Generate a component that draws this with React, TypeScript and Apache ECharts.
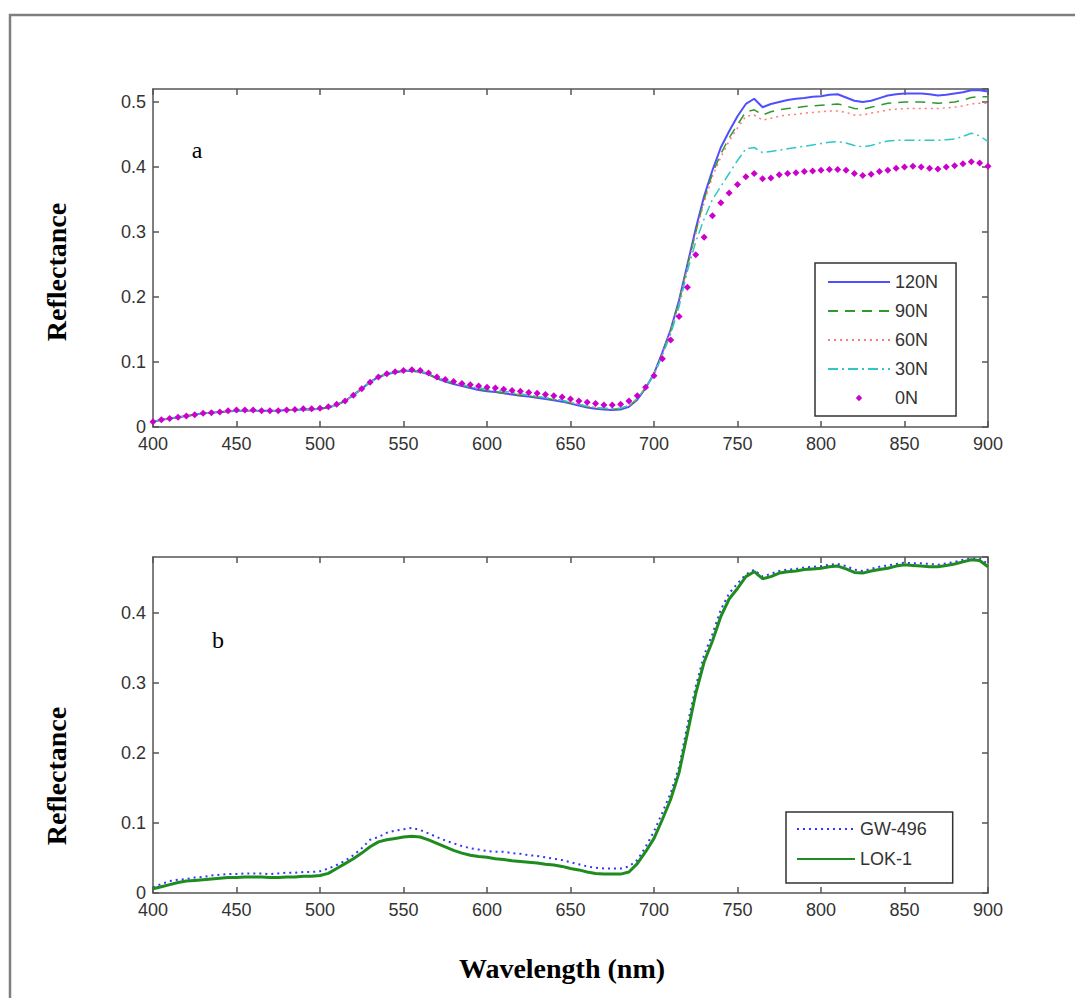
import React, { useEffect, useRef } from "react";
import * as echarts from "echarts";

// Sampling wavelengths (nm)
const WAVELENGTH = [
  400, 405, 410, 415, 420, 425, 430, 435, 440, 445,
  450, 455, 460, 465, 470, 475, 480, 485, 490, 495,
  500, 505, 510, 515, 520, 525, 530, 535, 540, 545,
  550, 555, 560, 565, 570, 575, 580, 585, 590, 595,
  600, 605, 610, 615, 620, 625, 630, 635, 640, 645,
  650, 655, 660, 665, 670, 675, 680, 685, 690, 695,
  700, 705, 710, 715, 720, 725, 730, 735, 740, 745,
  750, 755, 760, 765, 770, 775, 780, 785, 790, 795,
  800, 805, 810, 815, 820, 825, 830, 835, 840, 845,
  850, 855, 860, 865, 870, 875, 880, 885, 890, 895,
  900,
];

// Panel a
const N120 = [
  0.008, 0.011, 0.013, 0.015, 0.017, 0.019, 0.021, 0.022, 0.023, 0.024,
  0.025, 0.025, 0.025, 0.025, 0.025, 0.025, 0.026, 0.026, 0.027, 0.027,
  0.028, 0.030, 0.034, 0.040, 0.049, 0.059, 0.069, 0.077, 0.081, 0.084,
  0.086, 0.086, 0.085, 0.081, 0.075, 0.070, 0.066, 0.063, 0.060, 0.057,
  0.055, 0.054, 0.052, 0.050, 0.048, 0.047, 0.045, 0.043, 0.041, 0.039,
  0.036, 0.033, 0.030, 0.028, 0.027, 0.026, 0.027, 0.031, 0.042, 0.060,
  0.082, 0.115, 0.150, 0.195, 0.250, 0.305, 0.355, 0.395, 0.430, 0.455,
  0.478, 0.497, 0.505, 0.492, 0.497, 0.500, 0.503, 0.505, 0.506, 0.508,
  0.509, 0.511, 0.512, 0.507, 0.502, 0.500, 0.502, 0.506, 0.510, 0.512,
  0.513, 0.513, 0.513, 0.512, 0.510, 0.511, 0.513, 0.515, 0.518, 0.518,
  0.516,
];
const N90 = [
  0.008, 0.011, 0.013, 0.015, 0.017, 0.019, 0.021, 0.022, 0.023, 0.024,
  0.025, 0.025, 0.025, 0.025, 0.025, 0.025, 0.026, 0.026, 0.027, 0.027,
  0.028, 0.030, 0.034, 0.040, 0.049, 0.059, 0.069, 0.077, 0.082, 0.085,
  0.086, 0.086, 0.085, 0.081, 0.075, 0.071, 0.067, 0.064, 0.061, 0.058,
  0.056, 0.054, 0.052, 0.051, 0.049, 0.047, 0.046, 0.044, 0.042, 0.040,
  0.037, 0.034, 0.031, 0.029, 0.028, 0.027, 0.028, 0.032, 0.043, 0.060,
  0.082, 0.113, 0.148, 0.193, 0.248, 0.300, 0.350, 0.390, 0.420, 0.445,
  0.465, 0.485, 0.488, 0.480, 0.485, 0.488, 0.490, 0.491, 0.493, 0.494,
  0.495, 0.496, 0.497, 0.494, 0.490, 0.489, 0.492, 0.495, 0.498, 0.499,
  0.500, 0.500, 0.500, 0.499, 0.498, 0.499, 0.500, 0.503, 0.507, 0.508,
  0.508,
];
const N60 = [
  0.008, 0.011, 0.013, 0.015, 0.017, 0.019, 0.021, 0.022, 0.023, 0.024,
  0.025, 0.025, 0.025, 0.025, 0.025, 0.025, 0.026, 0.026, 0.027, 0.027,
  0.028, 0.030, 0.034, 0.040, 0.049, 0.059, 0.069, 0.077, 0.082, 0.085,
  0.087, 0.087, 0.086, 0.082, 0.076, 0.072, 0.068, 0.065, 0.062, 0.060,
  0.058, 0.056, 0.054, 0.052, 0.050, 0.049, 0.047, 0.045, 0.043, 0.041,
  0.038, 0.035, 0.032, 0.030, 0.029, 0.028, 0.029, 0.033, 0.044, 0.061,
  0.082, 0.112, 0.147, 0.190, 0.245, 0.297, 0.345, 0.385, 0.415, 0.440,
  0.460, 0.478, 0.480, 0.472, 0.475, 0.478, 0.480, 0.481, 0.483, 0.484,
  0.485, 0.486, 0.486, 0.484, 0.480, 0.480, 0.483, 0.485, 0.488, 0.489,
  0.490, 0.490, 0.490, 0.490, 0.490, 0.491, 0.492, 0.494, 0.497, 0.498,
  0.498,
];
const N30 = [
  0.008, 0.011, 0.013, 0.015, 0.017, 0.019, 0.021, 0.022, 0.023, 0.024,
  0.025, 0.025, 0.025, 0.025, 0.025, 0.025, 0.026, 0.026, 0.027, 0.027,
  0.028, 0.030, 0.034, 0.040, 0.049, 0.059, 0.069, 0.077, 0.082, 0.085,
  0.087, 0.087, 0.086, 0.082, 0.076, 0.072, 0.068, 0.065, 0.062, 0.060,
  0.058, 0.057, 0.055, 0.053, 0.051, 0.049, 0.047, 0.045, 0.043, 0.041,
  0.038, 0.035, 0.032, 0.030, 0.029, 0.028, 0.029, 0.033, 0.044, 0.061,
  0.080, 0.110, 0.143, 0.185, 0.240, 0.285, 0.320, 0.350, 0.370, 0.390,
  0.410, 0.428, 0.430, 0.422, 0.424, 0.426, 0.428, 0.430, 0.432, 0.434,
  0.436, 0.438, 0.439, 0.437, 0.433, 0.431, 0.433, 0.437, 0.440, 0.441,
  0.441, 0.441, 0.441, 0.441, 0.441, 0.442, 0.443, 0.447, 0.452, 0.448,
  0.439,
];
const N0 = [
  0.008, 0.011, 0.013, 0.015, 0.017, 0.019, 0.021, 0.022, 0.023, 0.025,
  0.026, 0.026, 0.026, 0.025, 0.025, 0.025, 0.026, 0.027, 0.028, 0.028,
  0.029, 0.031, 0.035, 0.040, 0.049, 0.059, 0.069, 0.077, 0.082, 0.085,
  0.087, 0.088, 0.087, 0.083, 0.077, 0.073, 0.070, 0.067, 0.065, 0.063,
  0.061, 0.060, 0.058, 0.056, 0.055, 0.053, 0.052, 0.050, 0.048, 0.046,
  0.043, 0.040, 0.038, 0.036, 0.034, 0.034, 0.035, 0.040, 0.048, 0.061,
  0.079, 0.105, 0.134, 0.170, 0.215, 0.265, 0.292, 0.325, 0.345, 0.360,
  0.373, 0.385, 0.390, 0.382, 0.383, 0.388, 0.390, 0.391, 0.393, 0.394,
  0.395, 0.396, 0.396, 0.395, 0.390, 0.387, 0.389, 0.393, 0.395, 0.398,
  0.400, 0.401, 0.400, 0.398, 0.397, 0.400, 0.402, 0.405, 0.408, 0.406,
  0.401,
];

// Panel b
const GW496 = [
  0.008, 0.013, 0.017, 0.019, 0.020, 0.022, 0.023, 0.025, 0.026, 0.027,
  0.027, 0.028, 0.028, 0.028, 0.027, 0.028, 0.029, 0.029, 0.030, 0.030,
  0.031, 0.035, 0.040, 0.046, 0.054, 0.064, 0.076, 0.080, 0.086, 0.089,
  0.091, 0.093, 0.090, 0.085, 0.080, 0.075, 0.071, 0.067, 0.064, 0.062,
  0.060, 0.059, 0.059, 0.057, 0.056, 0.054, 0.053, 0.051, 0.049, 0.047,
  0.044, 0.041, 0.038, 0.036, 0.035, 0.035, 0.035, 0.038, 0.047, 0.066,
  0.088, 0.115, 0.143, 0.180, 0.240, 0.295, 0.340, 0.370, 0.405, 0.428,
  0.442, 0.455, 0.462, 0.452, 0.456, 0.460, 0.462, 0.463, 0.465, 0.466,
  0.467, 0.469, 0.470, 0.467, 0.462, 0.460, 0.463, 0.466, 0.468, 0.470,
  0.472, 0.471, 0.471, 0.470, 0.469, 0.471, 0.473, 0.476, 0.478, 0.478,
  0.470,
];
const LOK1 = [
  0.006, 0.009, 0.012, 0.015, 0.017, 0.018, 0.019, 0.020, 0.021, 0.022,
  0.022, 0.023, 0.023, 0.023, 0.022, 0.022, 0.023, 0.023, 0.024, 0.024,
  0.025, 0.028, 0.035, 0.042, 0.049, 0.057, 0.066, 0.073, 0.076, 0.078,
  0.080, 0.081, 0.080, 0.076, 0.071, 0.066, 0.061, 0.057, 0.054, 0.052,
  0.051, 0.049, 0.048, 0.046, 0.045, 0.044, 0.043, 0.041, 0.040, 0.038,
  0.035, 0.033, 0.030, 0.028, 0.027, 0.027, 0.027, 0.030, 0.042, 0.059,
  0.078, 0.105, 0.134, 0.172, 0.228, 0.285, 0.330, 0.360, 0.395, 0.420,
  0.435, 0.452, 0.459, 0.449, 0.452, 0.457, 0.459, 0.460, 0.462, 0.463,
  0.464, 0.466, 0.467, 0.463, 0.458, 0.457, 0.460, 0.462, 0.464, 0.467,
  0.469, 0.468, 0.467, 0.466, 0.466, 0.468, 0.470, 0.473, 0.476, 0.475,
  0.466,
];

const X_MIN = 400;
const X_MAX = 900;
const X_STEP = 50;
const Y_STEP = 0.1;
const YA_MAX = 0.52;
const YB_MAX = 0.48;

const LEGEND_A = ["120N", "90N", "60N", "30N"];
const LEGEND_A_MARK = "0N";
const LEGEND_B = ["GW-496", "LOK-1"];

const pairs = (ys: number[]) => WAVELENGTH.map((w, i) => [w, ys[i]]);

const SANS = "'Liberation Sans', Arial, sans-serif";
const SERIF = "'Liberation Serif', 'Times New Roman', serif";
const AX = "#555";

function xAxisDef(gridIndex: number, position: "top" | "bottom") {
  return {
    type: "value",
    gridIndex,
    position,
    min: X_MIN,
    max: X_MAX,
    interval: X_STEP,
    axisLine: { show: true, onZero: false, lineStyle: { color: AX, width: 1.5 } },
    axisTick: { show: true, inside: true, length: 6, lineStyle: { color: AX, width: 1.5 } },
    axisLabel: {
      show: position === "bottom",
      color: "#333",
      fontSize: 18,
      lineHeight: 14,
      fontFamily: SANS,
      margin: 10,
    },
    splitLine: { show: false },
  };
}

function yAxisDef(gridIndex: number, position: "left" | "right", max: number) {
  return {
    type: "value",
    gridIndex,
    position,
    min: 0,
    max,
    interval: Y_STEP,
    axisLine: { show: true, onZero: false, lineStyle: { color: AX, width: 1.5 } },
    axisTick: { show: true, inside: true, length: 6, lineStyle: { color: AX, width: 1.5 } },
    axisLabel: {
      show: position === "left",
      showMaxLabel: false,
      color: "#333",
      fontSize: 18,
      lineHeight: 14,
      fontFamily: SANS,
      margin: 7,
    },
    splitLine: { show: false },
  };
}

export default function App() {
  const ref = useRef<HTMLDivElement>(null);

  useEffect(() => {
    if (!ref.current) return;
    const chart = echarts.init(ref.current, null, { renderer: "svg" });

    const lineSeries = (
      name: string,
      ys: number[],
      xi: number,
      yi: number,
      color: string,
      width: number,
      type: any
    ) => ({
      name,
      type: "line",
      xAxisIndex: xi,
      yAxisIndex: yi,
      data: pairs(ys),
      symbol: "none",
      smooth: false,
      lineStyle: { color, width, type },
      itemStyle: { color },
      z: 3,
    });

    const lineOnly = (name: string) => ({ name, itemStyle: { opacity: 0 } });

    chart.setOption({
      animation: false,
      backgroundColor: "#fff",
      grid: [
        { left: 153, top: 89, width: 835, height: 338 },
        { left: 153, top: 557, width: 835, height: 336 },
      ],
      xAxis: [
        xAxisDef(0, "bottom"),
        xAxisDef(0, "top"),
        xAxisDef(1, "bottom"),
        xAxisDef(1, "top"),
      ],
      yAxis: [
        yAxisDef(0, "left", YA_MAX),
        yAxisDef(0, "right", YA_MAX),
        yAxisDef(1, "left", YB_MAX),
        yAxisDef(1, "right", YB_MAX),
      ],
      legend: [
        {
          data: [
            ...LEGEND_A.map(lineOnly),
            { name: LEGEND_A_MARK, lineStyle: { opacity: 0 } },
          ],
          orient: "vertical",
          left: 815,
          top: 263,
          itemWidth: 62,
          itemHeight: 8,
          itemGap: 11,
          itemTextGap: 7,
          padding: [10, 18, 9, 12],
          borderColor: "#333",
          borderWidth: 1.5,
          backgroundColor: "#fff",
          textStyle: { fontSize: 18, color: "#333", fontFamily: SANS },
          selectedMode: false,
          z: 10,
        },
        {
          data: LEGEND_B.map(lineOnly),
          orient: "vertical",
          left: 786,
          top: 812,
          itemWidth: 58,
          itemHeight: 8,
          itemGap: 12,
          itemTextGap: 7,
          padding: [8, 26, 15, 10],
          borderColor: "#333",
          borderWidth: 1.5,
          backgroundColor: "#fff",
          textStyle: { fontSize: 18, color: "#333", fontFamily: SANS },
          selectedMode: false,
          z: 10,
        },
      ],
      series: [
        lineSeries("120N", N120, 0, 0, "#4f4fff", 2, "solid"),
        lineSeries("90N", N90, 0, 0, "#2f992f", 1.5, [10, 7]),
        lineSeries("60N", N60, 0, 0, "#ff7a7a", 1.5, [2, 4]),
        lineSeries("30N", N30, 0, 0, "#33c6c6", 1.5, [10, 4, 2, 4]),
        {
          name: "0N",
          type: "line",
          xAxisIndex: 0,
          yAxisIndex: 0,
          data: pairs(N0),
          symbol: "diamond",
          symbolSize: 7,
          showSymbol: true,
          lineStyle: { width: 0, opacity: 0 },
          itemStyle: { color: "#cc00cc" },
          z: 4,
        },
        lineSeries("GW-496", GW496, 2, 2, "#3535ff", 2, [2, 4]),
        lineSeries("LOK-1", LOK1, 2, 2, "#1f8c1f", 3, "solid"),
      ],
      graphic: [
        {
          type: "rect",
          shape: { x: 10, y: 15, width: 1200, height: 1200 },
          style: { fill: "none", stroke: "#7f7f7f", lineWidth: 2.5 },
          silent: true,
        },
        {
          type: "text",
          x: 197,
          y: 150,
          style: { text: "a", font: `24px ${SERIF}`, fill: "#000", textAlign: "center", textVerticalAlign: "middle" },
        },
        {
          type: "text",
          x: 218,
          y: 640,
          style: { text: "b", font: `24px ${SERIF}`, fill: "#000", textAlign: "center", textVerticalAlign: "middle" },
        },
        {
          type: "text",
          x: 56,
          y: 272,
          rotation: Math.PI / 2,
          style: { text: "Reflectance", font: `bold 28px ${SERIF}`, fill: "#000", textAlign: "center", textVerticalAlign: "middle" },
        },
        {
          type: "text",
          x: 56,
          y: 776,
          rotation: Math.PI / 2,
          style: { text: "Reflectance", font: `bold 28px ${SERIF}`, fill: "#000", textAlign: "center", textVerticalAlign: "middle" },
        },
        {
          type: "text",
          x: 562,
          y: 968,
          style: { text: "Wavelength (nm)", font: `bold 28px ${SERIF}`, fill: "#000", textAlign: "center", textVerticalAlign: "middle" },
        },
      ],
    });

    return () => chart.dispose();
  }, []);

  return (
    <div
      ref={ref}
      style={{ position: "absolute", left: 0, top: 0, width: 1075, height: 998, background: "#fff" }}
    />
  );
}
